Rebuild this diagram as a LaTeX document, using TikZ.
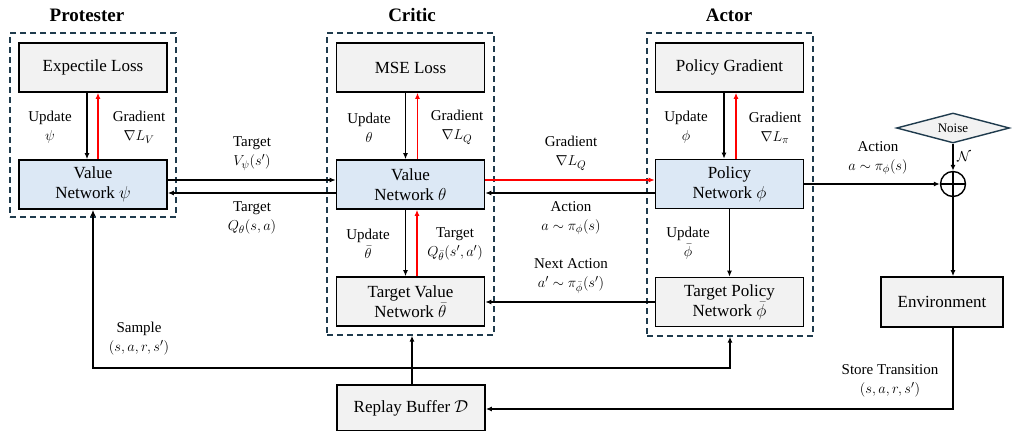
\documentclass[tikz,border=0pt]{standalone}
\usepackage{fontspec}
\setmainfont{Liberation Serif}
\usetikzlibrary{arrows.meta,shapes.geometric,calc}

\definecolor{boxgray}{HTML}{F2F2F2}
\definecolor{boxblue}{HTML}{DCE8F5}
\definecolor{framecol}{HTML}{1F3B4D}
\definecolor{gradred}{HTML}{FF0000}

\begin{document}
\begin{tikzpicture}[x=1pt,y=-1pt,
  box/.style={draw,line width=1.6pt,fill=boxgray,minimum width=148pt,minimum height=49pt,
    align=center,inner sep=0pt,font=\fontsize{17}{20}\selectfont},
  netbox/.style={box,fill=boxblue},
  group/.style={draw=framecol,line width=1.4pt,dash pattern=on 6pt off 4pt,inner sep=0pt},
  lbl/.style={align=center,inner sep=0pt,font=\fontsize{15}{19}\selectfont},
  head/.style={inner sep=0pt,font=\fontsize{19}{22}\selectfont\bfseries},
  arr/.style={-{Latex[length=6pt,width=5pt]},line width=1.4pt},
  garr/.style={arr,draw=gradred,fill=gradred},
]
\useasboundingbox (0,0) rectangle (1015,431);

% module frames
\node[group,minimum width=166pt,minimum height=184pt] (gP) at (93,125) {};
\node[group,minimum width=167pt,minimum height=302pt] (gC) at (410.5,184) {};
\node[group,minimum width=166pt,minimum height=303pt] (gA) at (730,184.5) {};

\node[head] (hP) at (87,15) {Protester};
\node[head] (hC) at (412,15) {Critic};
\node[head] (hA) at (729,15) {Actor};

% blocks
\node[box] (el) at (93,67.5) {Expectile Loss};
\node[netbox] (vpsi) at (93,184.5) {Value\\Network $\psi$};
\node[box] (mse) at (410.5,67.5) {MSE Loss};
\node[netbox] (vth) at (410.5,184.5) {Value\\Network $\theta$};
\node[box] (tv) at (410.5,301.5) {Target Value\\Network $\bar{\theta}$};
\node[box] (pg) at (729.5,67.5) {Policy Gradient};
\node[netbox] (pol) at (729.5,184) {Policy\\Network $\phi$};
\node[box] (tp) at (729.5,302) {Target Policy\\Network $\bar{\phi}$};
\node[box,minimum width=122pt,minimum height=50pt] (env) at (942,302) {Environment};
\node[box,minimum height=46pt] (rb) at (411,408) {Replay Buffer $\mathcal{D}$};

\node[diamond,draw=framecol,fill=boxgray,line width=1.4pt,aspect=3.8,
  minimum width=113pt,minimum height=30pt,inner sep=0pt,
  font=\fontsize{13}{15}\selectfont] (noise) at (953,128) {Noise};
\node[circle,draw,line width=1.4pt,minimum size=25pt,inner sep=0pt] (sum) at (953,184) {};
\draw[line width=1.4pt] (sum.north) -- (sum.south) (sum.west) -- (sum.east);

% update / gradient loops inside each module
\draw[arr] ([xshift=-6pt]el.south) -- ([xshift=-6pt]vpsi.north);
\draw[garr] ([xshift=5pt]vpsi.north) -- ([xshift=5pt]el.south);
\draw[arr] ([xshift=-5pt]mse.south) -- ([xshift=-5pt]vth.north);
\draw[garr] ([xshift=7pt]vth.north) -- ([xshift=7pt]mse.south);
\draw[arr] ([xshift=-5.5pt]pg.south) -- ([xshift=-5.5pt]pol.north);
\draw[garr] ([xshift=6.5pt]pol.north) -- ([xshift=6.5pt]pg.south);
\draw[arr] ([xshift=-5pt]vth.south) -- ([xshift=-5pt]tv.north);
\draw[garr] ([xshift=6.5pt]tv.north) -- ([xshift=6.5pt]vth.south);
\draw[arr] (pol.south) -- (tp.north);

\node[lbl] (l1) at (50,127.5) {Update\\$\psi$};
\node[lbl] (l2) at (139,127.5) {Gradient\\$\nabla L_V$};
\node[lbl] (l3) at (369,127.5) {Update\\$\theta$};
\node[lbl] (l4) at (457,127.5) {Gradient\\$\nabla L_Q$};
\node[lbl] (l5) at (686,127.5) {Update\\$\phi$};
\node[lbl] (l6) at (775,127.5) {Gradient\\$\nabla L_\pi$};
\node[lbl] (l7) at (368,244) {Update\\$\bar{\theta}$};
\node[lbl] (l8) at (455,244) {Target\\$Q_{\bar{\theta}}(s',a')$};
\node[lbl] (l9) at (688,243) {Update\\$\bar{\phi}$};

% links between modules (upper lane forward, lower lane backward)
\draw[arr] ([yshift=4.5pt]vpsi.east) -- ([yshift=4.5pt]vth.west);
\draw[arr] ([yshift=-8.5pt]vth.west) -- ([yshift=-8.5pt]vpsi.east);
\draw[garr] ([yshift=4.5pt]vth.east) -- ([yshift=4pt]pol.west);
\draw[arr] ([yshift=-9pt]pol.west) -- ([yshift=-8.5pt]vth.east);
\draw[arr] (tp.west) -- (tp.west -| tv.east);

\node[lbl] (l10) at (252,153.5) {Target\\$V_\psi(s')$};
\node[lbl] (l11) at (252,218) {Target\\$Q_\theta(s,a)$};
\node[lbl] (l12) at (571,153.5) {Gradient\\$\nabla L_Q$};
\node[lbl] (l13) at (571,218) {Action\\$a\sim\pi_\phi(s)$};
\node[lbl] (l14) at (571,276) {Next Action\\$a'\sim\pi_{\bar{\phi}}(s')$};

% interaction with the environment
\draw[arr] (pol.east |- sum.west) -- (sum.west);
\draw[arr] (noise.south) -- (sum.north);
\draw[arr] (sum.south) -- (sum.south |- env.north);
\node[lbl] (l15) at (878,158) {Action\\$a\sim\pi_\phi(s)$};
\node[lbl] (l16) at (964,157) {$\mathcal{N}$};

\coordinate (st) at (953,409);
\draw[arr] (env.south -| st) -- (st) -- (rb.east |- st);
\node[lbl] (l17) at (890,381) {Store Transition\\$(s,a,r,s')$};

% sampling from the replay buffer
\coordinate (j) at (412,368);
\draw[arr] (rb.north -| j) -- (gC.south -| j);
\draw[arr] (j) -| (vpsi.south);
\draw[arr] (j) -| (gA.south);
\node[lbl] (l18) at (139,339) {Sample\\$(s,a,r,s')$};
\end{tikzpicture}
\end{document}
